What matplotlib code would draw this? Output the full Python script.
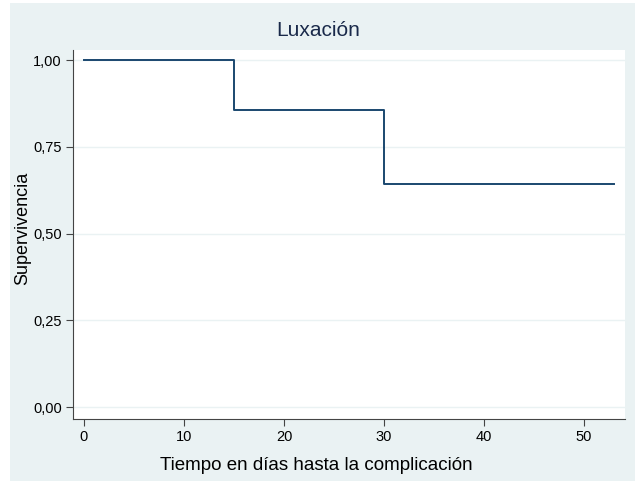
from matplotlib import pyplot as plt
from matplotlib.patches import Rectangle

# datos de supervivencia (Kaplan-Meier)
tiempo = [0, 15, 15, 30, 30, 53]
superv = [1.0, 1.0, 0.857, 0.857, 0.643, 0.643]
xticks = [0, 10, 20, 30, 40, 50]
yticks = [0.0, 0.25, 0.5, 0.75, 1.0]
ylabels = ['0,00', '0,25', '0,50', '0,75', '1,00']

plt.rcParams['font.family'] = ['Liberation Sans', 'DejaVu Sans']

W, H = 635, 483
fig = plt.figure(figsize=(W / 100, H / 100), dpi=100, facecolor='white')
bg = '#eaf2f3'
fig.patches.append(Rectangle((10 / W, 2 / H), 625 / W, 478 / H,
                             transform=fig.transFigure, facecolor=bg,
                             edgecolor='none', zorder=-10))

ax = fig.add_axes([73 / W, 1 - 419 / H, (625 - 73) / W, (419 - 50) / H])
ax.set_facecolor('white')
ax.plot(tiempo, superv, color='#1a476f', linewidth=1.4)

ax.set_xlim(-1.1, 54.1)
ax.set_ylim(-0.034, 1.029)
ax.set_xticks(xticks)
ax.set_yticks(yticks)
ax.set_yticklabels(ylabels)
ax.grid(axis='y', color='#eaf2f3', linewidth=1)
ax.set_axisbelow(True)

for s in ['top', 'right']:
    ax.spines[s].set_visible(False)
for s in ['left', 'bottom']:
    ax.spines[s].set_color('#444444')
    ax.spines[s].set_linewidth(0.8)
ax.tick_params(length=5, width=0.8, color='#444444', labelsize=10.5,
               labelcolor='black', pad=3)

fig.text(318 / W, 1 - 31 / H, 'Luxación', ha='center', va='center',
         fontsize=15, color='#1a2a4a')
fig.text(316 / W, 1 - 466 / H, 'Tiempo en días hasta la complicación',
         ha='center', va='center', fontsize=13.5)
fig.text(23 / W, 1 - 228 / H, 'Supervivencia', ha='center', va='center',
         rotation=90, fontsize=13)

fig.savefig('out.png', dpi=100, facecolor='white')
